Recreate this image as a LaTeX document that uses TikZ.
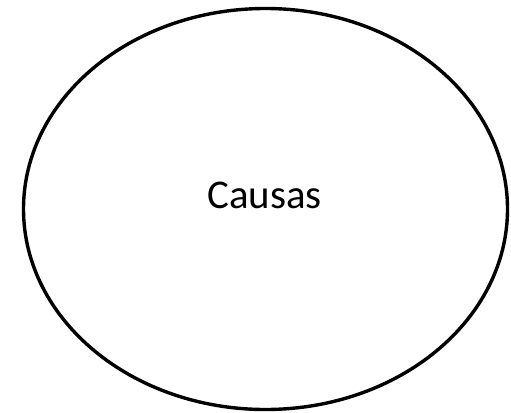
\documentclass[tikz,border=0pt]{standalone}
\usepackage{fontspec}
\setmainfont{Carlito}
\usetikzlibrary{shapes.geometric}

\begin{document}
\begin{tikzpicture}[x=1bp,y=1bp,
    oval/.style={draw=black,line width=3.4bp,ellipse,
      minimum width=484bp,minimum height=401bp,inner sep=0pt},
    lbl/.style={font=\fontsize{41}{49}\selectfont,inner sep=0pt,anchor=base},
  ]
    \useasboundingbox (0,0) rectangle (511,412);
    \node[oval](causes) at (265.5,203) {};
    \node[lbl](causaslbl) at (264.5,204) {Causas};
  \end{tikzpicture}
\end{document}
